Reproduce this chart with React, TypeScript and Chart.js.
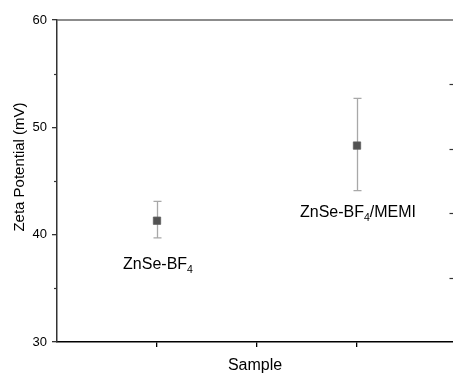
import React, { useEffect, useRef } from 'react';
import { Chart, registerables } from 'chart.js';
Chart.register(...registerables);

// ---- data ----
const xPositions = [1, 3];
const meanValues = [41.3, 48.3];
const upperValues = [43.1, 52.7];
const lowerValues = [39.7, 44.1];
const labelMain = ['ZnSe-BF', 'ZnSe-BF'];
const labelSub = ['4', '4'];
const labelTail = ['', '/MEMI'];
const labelAnchorY = [36.8, 41.6];
const xTicks = [1, 2, 3];
const yMinorTicks = [35, 45, 55];
const rightTicks = [36, 42, 48, 54];
const yTitle = 'Zeta Potential (mV)';
const xTitle = 'Sample';

const FONT = "'Liberation Sans', Arial, sans-serif";

const decor = {
  id: 'decor',
  beforeDatasetsDraw(chart: any) {
    const { ctx, scales } = chart;
    const x = scales.x, y = scales.y;
    ctx.save();
    ctx.strokeStyle = '#a8a8a8';
    ctx.lineWidth = 1.3;
    xPositions.forEach((xv, i) => {
      const px = Math.round(x.getPixelForValue(xv)) + 0.5;
      const top = y.getPixelForValue(upperValues[i]);
      const bot = y.getPixelForValue(lowerValues[i]);
      ctx.beginPath();
      ctx.moveTo(px, top); ctx.lineTo(px, bot);
      ctx.moveTo(px - 4, top); ctx.lineTo(px + 4, top);
      ctx.moveTo(px - 4, bot); ctx.lineTo(px + 4, bot);
      ctx.stroke();
    });
    ctx.restore();
  },
  afterDraw(chart: any) {
    const { ctx, chartArea, scales } = chart;
    const x = scales.x, y = scales.y;
    ctx.save();
    // top frame line
    ctx.strokeStyle = '#666';
    ctx.lineWidth = 1.5;
    ctx.beginPath();
    ctx.moveTo(chartArea.left, chartArea.top);
    ctx.lineTo(chartArea.right, chartArea.top);
    ctx.stroke();
    // minor ticks on left axis
    ctx.strokeStyle = '#333';
    ctx.lineWidth = 1.2;
    yMinorTicks.forEach(v => {
      const py = Math.round(y.getPixelForValue(v)) + 0.5;
      ctx.beginPath();
      ctx.moveTo(chartArea.left - 3, py);
      ctx.lineTo(chartArea.left, py);
      ctx.stroke();
    });
    // right-side ticks
    rightTicks.forEach(v => {
      const py = Math.round(y.getPixelForValue(v)) + 0.5;
      ctx.beginPath();
      ctx.moveTo(chartArea.right - 3.5, py);
      ctx.lineTo(chartArea.right, py);
      ctx.stroke();
    });
    // point labels with subscript
    ctx.fillStyle = '#000';
    ctx.textBaseline = 'alphabetic';
    xPositions.forEach((xv, i) => {
      const px = x.getPixelForValue(xv) + 1;
      const py = y.getPixelForValue(labelAnchorY[i]);
      ctx.font = `16px ${FONT}`;
      const w1 = ctx.measureText(labelMain[i]).width;
      const w3 = ctx.measureText(labelTail[i]).width;
      ctx.font = `10.5px ${FONT}`;
      const w2 = ctx.measureText(labelSub[i]).width;
      let sx = px - (w1 + w2 + w3) / 2;
      ctx.textAlign = 'left';
      ctx.font = `16px ${FONT}`;
      ctx.fillText(labelMain[i], sx, py);
      sx += w1;
      ctx.font = `10.5px ${FONT}`;
      ctx.fillText(labelSub[i], sx, py + 3.5);
      sx += w2;
      ctx.font = `16px ${FONT}`;
      ctx.fillText(labelTail[i], sx, py);
    });
    // y axis title
    ctx.translate(20, (chartArea.top + chartArea.bottom) / 2 - 14);
    ctx.rotate(-Math.PI / 2);
    ctx.textAlign = 'center';
    ctx.textBaseline = 'middle';
    ctx.font = `15px ${FONT}`;
    ctx.fillText(yTitle, 0, 0);
    ctx.restore();
  },
};

export default function App() {
  const ref = useRef<HTMLCanvasElement | null>(null);
  useEffect(() => {
    document.body.style.margin = '0';
    const canvas = ref.current!;
    const chart = new Chart(canvas, {
      type: 'scatter',
      data: {
        datasets: [
          {
            data: xPositions.map((xv, i) => ({ x: xv, y: meanValues[i] })),
            pointStyle: 'rect',
            pointRadius: 5.2,
            backgroundColor: '#525252',
            borderColor: '#606060',
            borderWidth: 0.8,
          },
        ],
      },
      options: {
        responsive: false,
        animation: false,
        events: [],
        layout: { autoPadding: false, padding: { top: 20, left: 0, right: 0, bottom: 0 } },
        plugins: { legend: { display: false }, tooltip: { enabled: false } },
        scales: {
          x: {
            type: 'linear',
            min: 0,
            max: 3.96,
            afterBuildTicks: (s: any) => {
              s.ticks = xTicks.map(v => ({ value: v }));
            },
            afterFit: (s: any) => {
              s.height = 32;
              s.paddingLeft = 0;
              s.paddingRight = 0;
            },
            ticks: { display: false },
            grid: { drawOnChartArea: false, tickLength: 5, color: '#000', lineWidth: 1.3 },
            border: { color: '#000', width: 1.5 },
            title: {
              display: true,
              text: xTitle,
              color: '#000',
              font: { size: 16, family: FONT, lineHeight: 1 },
              padding: { top: 0, bottom: 0 },
            },
          },
          y: {
            min: 30,
            max: 60,
            afterFit: (s: any) => {
              s.width = 57;
            },
            ticks: {
              stepSize: 10,
              color: '#000',
              padding: 5,
              font: { size: 13, family: FONT },
            },
            grid: { drawOnChartArea: false, tickLength: 5, color: '#333', lineWidth: 1.3 },
            border: { color: '#333', width: 1.5 },
          },
        },
      },
      plugins: [decor],
    } as any);
    return () => chart.destroy();
  }, []);
  return <canvas ref={ref} width={453} height={374} style={{ display: 'block' }} />;
}
